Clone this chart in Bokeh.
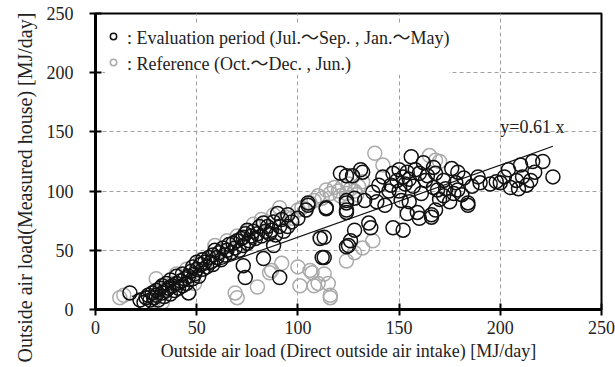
from bokeh.plotting import figure
from bokeh.models import Range1d, Label, Legend, LegendItem, FixedTicker, Title
from bokeh.embed import file_html
from bokeh.resources import INLINE

# Evaluation period (Jul.~Sep., Jan.~May) -- black circles
eval_x = [17, 22, 24, 25, 26, 27, 28, 29, 30, 30, 31, 32, 33, 33, 34, 35, 35, 36, 37, 37,
          38, 39, 40, 40, 41, 42, 43, 43, 44, 45, 46, 46, 47, 48, 48, 49, 50, 50, 51, 52,
          53, 53, 54, 55, 56, 57, 58, 58, 59, 60, 61, 62, 63, 64, 65, 66, 67, 68, 69, 70,
          71, 72, 73, 73, 74, 75, 75, 76, 77, 78, 79, 80, 81, 82, 83, 84, 85, 86, 87, 88,
          89, 90, 91, 92, 93, 95, 95, 97, 100, 105, 105, 114, 114,
          73, 74, 83, 88, 91, 112, 111, 113, 113,
          124, 127, 131, 132, 124, 124, 124, 124, 128, 133, 137, 139, 143, 128, 135, 136,
          125, 124, 126, 147, 152, 142, 147, 149, 150, 152, 154, 155, 156, 151, 155, 159,
          160, 154, 161, 162, 167, 163, 167, 166, 168, 168, 172, 176, 179, 182, 178, 169,
          173, 179, 177, 181, 175, 184, 184, 166, 189, 190, 198, 204, 205, 210, 208, 211,
          215, 216, 221, 217, 226, 213, 209,
          146, 150, 153, 158, 164, 170, 172, 186, 195, 200, 202, 145, 157, 160, 140, 104, 121]
eval_y = [14, 8, 6, 10, 12, 8, 14, 10, 16, 12, 8, 18, 14, 20, 11, 16, 22, 18, 13, 25,
          20, 16, 22, 28, 18, 24, 20, 30, 26, 22, 28, 14, 32, 26, 36, 30, 34, 40, 28, 38,
          42, 34, 40, 36, 44, 40, 46, 38, 50, 44, 48, 42, 52, 46, 50, 55, 48, 56, 52, 58,
          50, 60, 54, 61, 64, 67, 56, 58, 62, 66, 60, 64, 70, 62, 73, 66, 70, 64, 67, 74,
          63, 81, 70, 76, 66, 80, 70, 74, 77, 90, 88, 86, 85,
          37, 27, 43, 54, 27, 44, 60, 61, 44,
          113, 113, 118, 116, 92, 90, 84, 53, 94, 92, 99, 91, 88, 67, 73, 69,
          54, 82, 58, 69, 67, 112, 115, 109, 118, 112, 116, 110, 129, 92, 91, 82,
          77, 81, 98, 124, 120, 109, 103, 80, 84, 115, 109, 119, 116, 111, 107, 101,
          102, 101, 98, 97, 91, 90, 88, 78, 112, 107, 108, 118, 103, 122, 109, 112,
          109, 125, 125, 116, 112, 105, 102,
          105, 100, 106, 118, 113, 93, 96, 104, 106, 107, 112, 100, 104, 115, 105, 84, 115]

# Reference (Oct.~Dec., Jun.) -- gray circles
ref_x = [12, 14, 29, 33, 30, 40, 45, 52, 59, 62, 65, 70, 75, 78, 82, 85, 88, 91, 94, 97,
         100, 102, 104, 106, 108, 110, 112, 114, 116, 118, 120, 121, 122, 124, 125, 126, 127, 128, 129, 130,
         132, 138, 142, 165, 168, 170,
         69, 70, 80, 86, 87, 92, 100, 101, 106, 107, 108, 110, 115, 116, 116, 111, 113, 124, 128, 137,
         49, 56, 38, 132]
ref_y = [10, 12, 8, 6, 26, 30, 34, 42, 54, 50, 58, 62, 66, 72, 76, 74, 80, 86, 78, 77,
         84, 86, 84, 90, 92, 96, 94, 101, 98, 103, 100, 96, 104, 98, 106, 102, 112, 100, 97, 104,
         108, 132, 122, 130, 126, 125,
         14, 10, 19, 31, 33, 39, 36, 20, 33, 31, 20, 22, 22, 12, 10, 61, 30, 41, 48, 58,
         22, 42, 22, 52]

slope = 0.61
fit_x = [18, 226]
fit_y = [slope * v for v in fit_x]

ticks = [0, 50, 100, 150, 200, 250]
FONT = "'Liberation Serif', 'Noto Sans CJK JP'"
FS = "18px"

p = figure(width=615, height=367, output_backend="svg", toolbar_location=None,
           x_range=Range1d(0, 250), y_range=Range1d(0, 250),
           min_border_left=95, min_border_right=14, min_border_top=13, min_border_bottom=58)
p.background_fill_color = "white"
p.border_fill_color = "white"
p.outline_line_color = "black"
p.outline_line_width = 2

for ax in (p.xaxis[0], p.yaxis[0]):
    ax.ticker = FixedTicker(ticks=ticks)
    ax.axis_line_width = 3
    ax.axis_line_color = "black"
    ax.major_tick_line_width = 2
    ax.major_tick_line_color = "black"
    ax.major_tick_in = 6
    ax.major_tick_out = 6
    ax.minor_tick_line_color = None
    ax.major_label_text_font = FONT
    ax.major_label_text_font_size = FS
    ax.major_label_text_color = "#222222"
    ax.axis_label_text_font = FONT
    ax.axis_label_text_font_size = FS
    ax.axis_label_text_font_style = "normal"
    ax.axis_label_text_color = "#222222"

p.xaxis.major_label_standoff = 5
p.yaxis.major_label_standoff = 16
p.xaxis.axis_label = "Outside air load (Direct outside air intake) [MJ/day]"
p.xaxis.axis_label_standoff = 4

for g in (p.xgrid[0], p.ygrid[0]):
    g.ticker = FixedTicker(ticks=[50, 100, 150, 200])
    g.grid_line_color = "#a0a0a0"
    g.grid_line_dash = "4 3"
    g.grid_line_width = 1

r_ref = p.scatter(ref_x, ref_y, marker="circle", size=14, fill_color=None,
                  line_color="#aaaaaa", line_width=1.5)
r_eval = p.scatter(eval_x, eval_y, marker="circle", size=14, fill_color=None,
                   line_color="#111111", line_width=1.5)
p.line(fit_x, fit_y, line_color="#111111", line_width=1.2)

p.add_layout(Label(x=200, y=154, text="y=0.61 x", text_font=FONT, text_font_size=FS,
                   text_baseline="middle", text_align="left", text_color="#222222"))

ytitle = Title(text="Outside air load(Measured house) [MJ/day]", align="left",
               text_font=FONT, text_font_size="20px", text_font_style="normal",
               text_color="#222222", offset=-53, standoff=16)
p.add_layout(ytitle, "left")

legend = Legend(items=[
    LegendItem(label=": Evaluation period (Jul.～Sep. , Jan.～May)", renderers=[r_eval]),
    LegendItem(label=": Reference (Oct.～Dec. , Jun.)", renderers=[r_ref]),
], location="top_left")
legend.margin = 10
legend.padding = 6
legend.spacing = -1
legend.glyph_width = 16
legend.glyph_height = 20
legend.label_height = 20
legend.label_standoff = 6
legend.label_text_font = FONT
legend.label_text_font_size = FS
legend.label_text_color = "#222222"
legend.border_line_color = None
legend.background_fill_color = "white"
legend.background_fill_alpha = 1.0
p.add_layout(legend)

open("out.html", "w").write(file_html(p, INLINE))
